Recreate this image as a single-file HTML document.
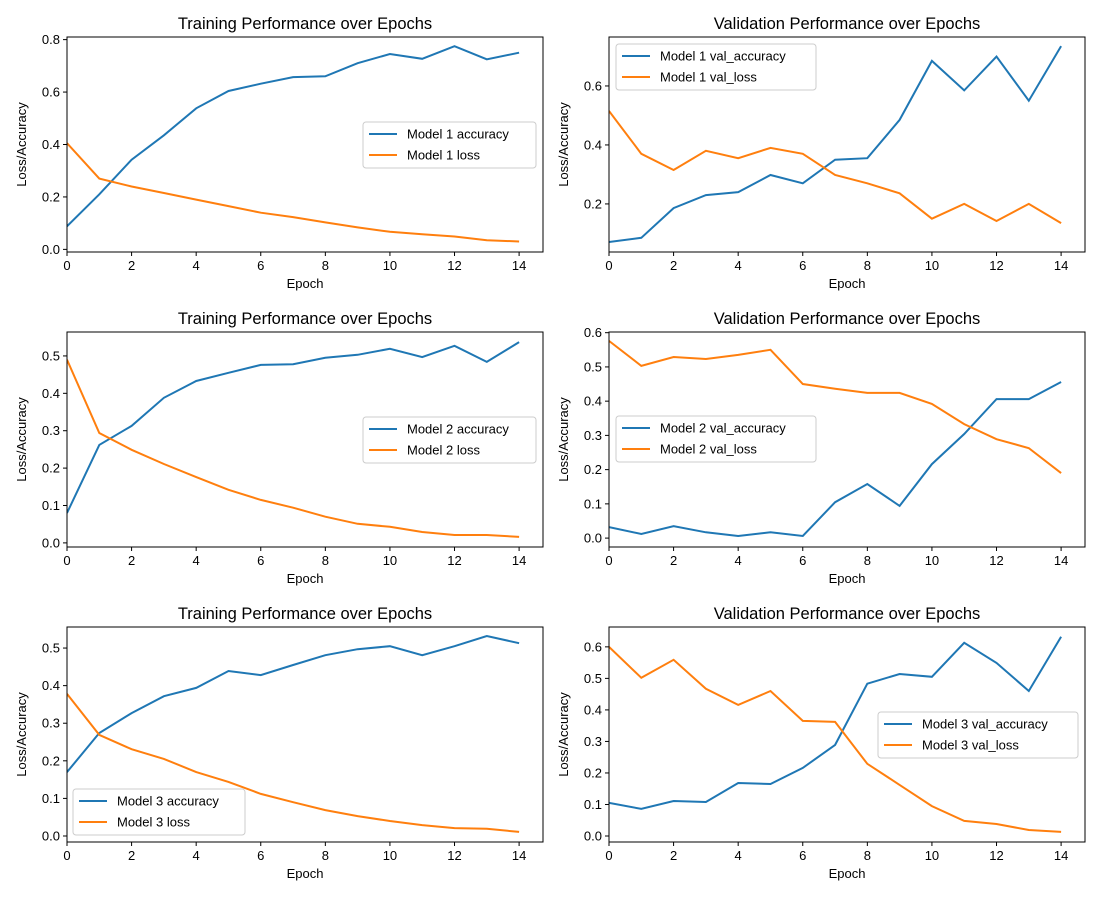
<!DOCTYPE html>
<html><head><meta charset="utf-8"><style>
body{margin:0;background:#fff;}
svg{display:block;font-family:"Liberation Sans","DejaVu Sans",sans-serif;}
</style></head><body>
<svg id="chart" width="1100" height="900"></svg>
<script>
const epochs=[0,1,2,3,4,5,6,7,8,9,10,11,12,13,14];
const m1Acc=[0.088,0.21,0.342,0.435,0.538,0.604,0.632,0.657,0.66,0.71,0.745,0.727,0.775,0.725,0.75];
const m1Loss=[0.405,0.27,0.24,0.215,0.19,0.165,0.14,0.123,0.103,0.084,0.067,0.058,0.049,0.035,0.03];
const m1ValAcc=[0.071,0.085,0.186,0.23,0.24,0.298,0.27,0.35,0.355,0.485,0.685,0.585,0.70,0.55,0.735];
const m1ValLoss=[0.515,0.37,0.315,0.38,0.355,0.39,0.37,0.298,0.27,0.236,0.15,0.2,0.142,0.2,0.135];
const m2Acc=[0.08,0.262,0.313,0.388,0.433,0.455,0.476,0.478,0.495,0.503,0.519,0.497,0.527,0.484,0.537];
const m2Loss=[0.49,0.294,0.249,0.211,0.176,0.142,0.115,0.094,0.07,0.051,0.043,0.029,0.021,0.021,0.016];
const m2ValAcc=[0.032,0.012,0.035,0.017,0.006,0.017,0.006,0.105,0.158,0.094,0.216,0.304,0.406,0.406,0.456];
const m2ValLoss=[0.576,0.503,0.529,0.523,0.535,0.55,0.45,0.436,0.424,0.424,0.392,0.333,0.289,0.263,0.19];
const m3Acc=[0.17,0.274,0.327,0.372,0.394,0.439,0.428,0.455,0.481,0.497,0.505,0.481,0.505,0.532,0.513];
const m3Loss=[0.378,0.269,0.231,0.205,0.17,0.144,0.112,0.09,0.069,0.053,0.04,0.029,0.021,0.019,0.011];
const m3ValAcc=[0.105,0.086,0.111,0.108,0.168,0.165,0.216,0.289,0.483,0.514,0.505,0.613,0.549,0.46,0.632];
const m3ValLoss=[0.6,0.502,0.559,0.467,0.416,0.46,0.365,0.362,0.229,0.162,0.095,0.048,0.038,0.019,0.013];
const xTicks=[0,2,4,6,8,10,12,14];
const yTicks1L=[0,0.2,0.4,0.6,0.8];
const yTicks1R=[0.2,0.4,0.6];
const yTicks2L=[0,0.1,0.2,0.3,0.4,0.5];
const yTicks2R=[0,0.1,0.2,0.3,0.4,0.5,0.6];
const yTicks3L=[0,0.1,0.2,0.3,0.4,0.5];
const yTicks3R=[0,0.1,0.2,0.3,0.4,0.5,0.6];

const NS="http://www.w3.org/2000/svg";
const svg=document.getElementById('chart');
function mk(tag,attrs,parent){const e=document.createElementNS(NS,tag);for(const k in attrs)e.setAttribute(k,attrs[k]);parent.appendChild(e);return e;}

const panels=[
 {x:67,y:37,title:"Training Performance over Epochs",ylim:[-0.01,0.81],yt:yTicks1L,dec:1,s:[[m1Acc,"Model 1 accuracy"],[m1Loss,"Model 1 loss"]],leg:[363,122,173],name:"model1-training"},
 {x:609,y:37,title:"Validation Performance over Epochs",ylim:[0.037,0.766],yt:yTicks1R,dec:1,s:[[m1ValAcc,"Model 1 val_accuracy"],[m1ValLoss,"Model 1 val_loss"]],leg:[616,44,200],name:"model1-validation"},
 {x:67,y:332,title:"Training Performance over Epochs",ylim:[-0.011,0.564],yt:yTicks2L,dec:1,s:[[m2Acc,"Model 2 accuracy"],[m2Loss,"Model 2 loss"]],leg:[363,417,173],name:"model2-training"},
 {x:609,y:332,title:"Validation Performance over Epochs",ylim:[-0.026,0.602],yt:yTicks2R,dec:1,s:[[m2ValAcc,"Model 2 val_accuracy"],[m2ValLoss,"Model 2 val_loss"]],leg:[616,416,200],name:"model2-validation"},
 {x:67,y:627,title:"Training Performance over Epochs",ylim:[-0.016,0.556],yt:yTicks3L,dec:1,s:[[m3Acc,"Model 3 accuracy"],[m3Loss,"Model 3 loss"]],leg:[73,789,172],name:"model3-training"},
 {x:609,y:627,title:"Validation Performance over Epochs",ylim:[-0.019,0.663],yt:yTicks3R,dec:1,s:[[m3ValAcc,"Model 3 val_accuracy"],[m3ValLoss,"Model 3 val_loss"]],leg:[878,712,200],name:"model3-validation"}
];
const W=476,H=215,colors=["#1f77b4","#ff7f0e"];
panels.forEach(p=>{
 const g=mk('g',{},svg);
 
 
 const sx=v=>p.x+v/14.74*W;
 const sy=v=>p.y+H-(v-p.ylim[0])/(p.ylim[1]-p.ylim[0])*H;
 const t=mk('text',{x:p.x+W/2,y:p.y-8,'text-anchor':'middle','font-size':16.5,fill:'#000'},g);t.textContent=p.title;
 
 xTicks.forEach(v=>{const X=sx(v);mk('line',{x1:X,x2:X,y1:p.y+H,y2:p.y+H+4,stroke:'#000','stroke-width':1},g);
  const l=mk('text',{x:X,y:p.y+H+18,'text-anchor':'middle','font-size':13},g);l.textContent=v;
  });
 p.yt.forEach(v=>{const Y=sy(v);mk('line',{x1:p.x-4,x2:p.x,y1:Y,y2:Y,stroke:'#000','stroke-width':1},g);
  const l=mk('text',{x:p.x-7,y:Y+4.5,'text-anchor':'end','font-size':13},g);l.textContent=v.toFixed(p.dec);
  });
 const xl=mk('text',{x:p.x+W/2,y:p.y+H+36,'text-anchor':'middle','font-size':13},g);xl.textContent="Epoch";
 
 const yx=p.x-41,yy=p.y+H/2;
 const yl=mk('text',{x:yx,y:yy,'text-anchor':'middle','font-size':13,transform:`rotate(-90 ${yx} ${yy})`},g);yl.textContent="Loss/Accuracy";
 
 const cp='clip-'+p.name;const cd=mk('clipPath',{id:cp},g);mk('rect',{x:p.x,y:p.y,width:W,height:H},cd);
 p.s.forEach((s,i)=>{const d=s[0].map((v,j)=>(j?'L':'M')+sx(epochs[j]).toFixed(1)+','+sy(v).toFixed(1)).join('');
  const pl=mk('path',{d:d,fill:'none',stroke:colors[i],'stroke-width':2,'clip-path':`url(#${cp})`},g);
  });
 mk('rect',{x:p.x,y:p.y,width:W,height:H,fill:'none',stroke:'#000','stroke-width':1},g);
 const [lx,ly,lw]=p.leg;
 const lg=mk('g',{},g);
 
 mk('rect',{x:lx,y:ly,width:lw,height:46,rx:3,fill:'#fff','fill-opacity':0.8,stroke:'#ccc','stroke-width':1},lg);
 p.s.forEach((s,i)=>{const Y=ly+12+i*21;mk('line',{x1:lx+6,x2:lx+34,y1:Y,y2:Y,stroke:colors[i],'stroke-width':2},lg);
  const tx=mk('text',{x:lx+44,y:Y+4.5,'font-size':13},lg);tx.textContent=s[1];
  });
});
</script>
</body></html>
